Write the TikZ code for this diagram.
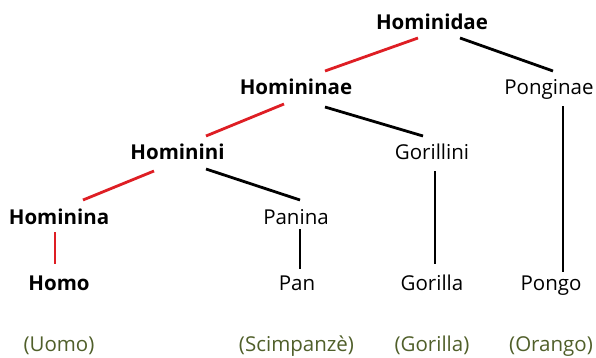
\documentclass[tikz,border=0pt]{standalone}
\usepackage{fontspec}
\setmainfont{Open Sans}
\usetikzlibrary{calc}
\definecolor{linered}{RGB}{222,30,36}
\definecolor{olivetext}{RGB}{80,95,42}
\tikzset{
  taxon/.style={anchor=base,inner sep=0pt,font=\fontsize{20.5}{23}\selectfont},
  taxonb/.style={taxon,font=\fontsize{20.5}{23}\selectfont\bfseries},
  common/.style={taxon,text=olivetext},
  redline/.style={draw=linered,line width=2.8pt},
  blackline/.style={draw=black,line width=2.8pt}
}
\begin{document}
\begin{tikzpicture}[x=1pt,y=-1pt]
\useasboundingbox (0,0) rectangle (596,357);
\node[taxonb] (hd) at (432,29) {Hominidae};
\node[taxonb] (hn) at (296,94) {Homininae};
\node[taxon]  (pg) at (549,94) {Ponginae};
\node[taxonb] (hi) at (177.5,159) {Hominini};
\node[taxon]  (gi) at (432,159) {Gorillini};
\node[taxonb] (ha) at (59,224) {Hominina};
\node[taxon]  (pa) at (296,224) {Panina};
\node[taxonb] (ho) at (59,290) {Homo};
\node[taxon]  (pn) at (297,290) {Pan};
\node[taxon]  (go) at (432,290) {Gorilla};
\node[taxon]  (po) at (551,290) {Pongo};
\node[common] (cu) at (59,351) {(Uomo)};
\node[common] (cs) at (296.5,351) {(Scimpanzè)};
\node[common] (cg) at (432,351) {(Gorilla)};
\node[common] (co) at (551,351) {(Orango)};
\draw[redline]   ($(hd.base)+(-14,9)$) -- ($(hn.base)+(29,-23)$);
\draw[blackline] ($(hd.base)+(28,9)$) -- ($(pg.base)+(4,-23)$);
\draw[redline]   ($(hn.base)+(-12,10)$) -- ($(hi.base)+(28.5,-23)$);
\draw[blackline] ($(hn.base)+(29,13)$) -- ($(gi.base)+(-9,-23)$);
\draw[blackline] ($(pg.base)+(14,12)$) -- ($(po.base)+(12,-18)$);
\draw[redline]   ($(hi.base)+(-23.5,12)$) -- ($(ha.base)+(24,-24)$);
\draw[blackline] ($(hi.base)+(28.5,10)$) -- ($(pa.base)+(4,-24)$);
\draw[blackline] ($(gi.base)+(3,12)$) -- ($(go.base)+(3,-26)$);
\draw[redline]   ($(ha.base)+(-4,8)$) -- ($(ho.base)+(-4,-26)$);
\draw[blackline] ($(pa.base)+(4,5)$) -- ($(pn.base)+(3,-21)$);
\end{tikzpicture}
\end{document}
